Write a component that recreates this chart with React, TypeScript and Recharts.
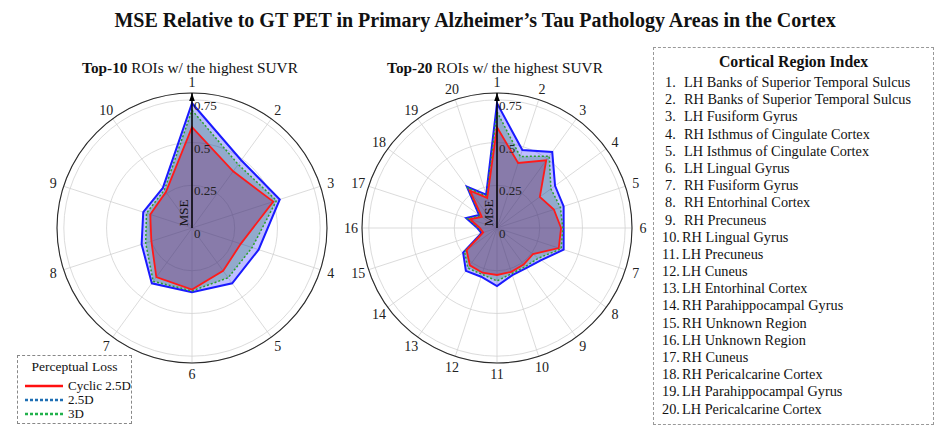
import { RadarChart, Radar, PolarGrid, PolarAngleAxis, PolarRadiusAxis } from 'recharts'

// ── data ──────────────────────────────────────────────────────────────────────
const TOP10_ROIS = ['1', '2', '3', '4', '5', '6', '7', '8', '9', '10']
const TOP10_CYCLIC = [0.59, 0.41, 0.50, 0.30, 0.31, 0.36, 0.355, 0.25, 0.257, 0.26]
const TOP10_25D    = [0.73, 0.49, 0.54, 0.41, 0.40, 0.376, 0.40, 0.31, 0.30, 0.29]
const TOP10_3D     = [0.69, 0.46, 0.52, 0.37, 0.36, 0.368, 0.386, 0.285, 0.28, 0.275]

const TOP20_ROIS = ['1', '2', '3', '4', '5', '6', '7', '8', '9', '10',
  '11', '12', '13', '14', '15', '16', '17', '18', '19', '20']
const TOP20_CYCLIC = [0.59, 0.40, 0.49, 0.31, 0.35, 0.375, 0.38, 0.26, 0.265, 0.27,
  0.275, 0.275, 0.27, 0.22, 0.085, 0.10, 0.165, 0.11, 0.27, 0.185]
const TOP20_25D    = [0.73, 0.48, 0.55, 0.42, 0.41, 0.39, 0.41, 0.32, 0.29, 0.29,
  0.34, 0.30, 0.31, 0.245, 0.095, 0.115, 0.19, 0.13, 0.30, 0.205]
const TOP20_3D     = [0.68, 0.44, 0.52, 0.39, 0.39, 0.385, 0.395, 0.30, 0.28, 0.28,
  0.31, 0.285, 0.29, 0.235, 0.09, 0.11, 0.18, 0.12, 0.29, 0.195]

const RADIUS_TICKS = [0, 0.25, 0.5, 0.75, 0.79]
const R_MAX = 0.79

const REGIONS = [
  'LH Banks of Superior Temporal Sulcus',
  'RH Banks of Superior Temporal Sulcus',
  'LH Fusiform Gyrus',
  'RH Isthmus of Cingulate Cortex',
  'LH Isthmus of Cingulate Cortex',
  'LH Lingual Gyrus',
  'RH Fusiform Gyrus',
  'RH Entorhinal Cortex',
  'RH Precuneus',
  'RH Lingual Gyrus',
  'LH Precuneus',
  'LH Cuneus',
  'LH Entorhinal Cortex',
  'RH Parahippocampal Gyrus',
  'RH Unknown Region',
  'LH Unknown Region',
  'RH Cuneus',
  'RH Pericalcarine Cortex',
  'LH Parahippocampal Gyrus',
  'LH Pericalcarine Cortex',
]

const SERIF = '"Liberation Serif", "Times New Roman", serif'

function rows(rois: string[], cyc: number[], d25: number[], d3: number[]) {
  return rois.map((roi, i) => ({ roi, cyc: cyc[i], d25: d25[i], d3: d3[i] }))
}

// ── ticks ─────────────────────────────────────────────────────────────────────
function AngleTick(props: any) {
  const { x, y, payload } = props
  return (
    <text x={x} y={y} dy="0.35em" textAnchor="middle" fontSize={14} fill="#222" fontFamily={SERIF}>
      {payload.value}
    </text>
  )
}

function RadiusTick(props: any) {
  const { x, y, payload } = props
  const v = payload.value as number
  if (v > 0.76) {
    // arrow head at the end of the MSE axis
    return <path d={`M${x},${y} l-2.8,8 l5.6,0 z`} fill="#000" />
  }
  return (
    <g>
      <text x={x + 2} y={y + 10} fontSize={13} fill="#222" fontFamily={SERIF}>{String(v)}</text>
      {v === 0 && (
        <text transform={`translate(${x - 4},${y - 15}) rotate(-90)`} textAnchor="middle" fontSize={13} fill="#111" fontFamily={SERIF}>
          MSE
        </text>
      )}
    </g>
  )
}

function Radial({ data }: { data: { roi: string; cyc: number; d25: number; d3: number }[] }) {
  return (
    <RadarChart width={310} height={310} data={data} cx={152} cy={153} outerRadius={135} startAngle={90} endAngle={-270} margin={{ top: 0, right: 0, bottom: 0, left: 0 }}>
      <PolarGrid gridType="circle" stroke="#d2d2d2" strokeWidth={0.8} />
      <PolarAngleAxis dataKey="roi" tick={AngleTick} tickLine={false} tickSize={11} axisLineType="circle" axisLine={{ stroke: '#2a2a2a', strokeWidth: 1.1 }} />
      <Radar dataKey="d25" stroke="#1a1aff" strokeWidth={2} fill="#0000ff" fillOpacity={0.25} dot={false} isAnimationActive={false} />
      <Radar dataKey="d3" stroke="#2ca02c" strokeWidth={1.5} strokeDasharray="2 2" fill="#2a7a5a" fillOpacity={0.3} dot={false} isAnimationActive={false} />
      <Radar dataKey="cyc" stroke="#ff1a1a" strokeWidth={1.8} fill="#70105a" fillOpacity={0.3} dot={false} isAnimationActive={false} />
      <PolarRadiusAxis angle={90} type="number" scale="linear" domain={[0, R_MAX]} tickCount={0} ticks={RADIUS_TICKS} tick={RadiusTick} tickLine={false} axisLine={{ stroke: '#000', strokeWidth: 1.5 }} allowDataOverflow />
    </RadarChart>
  )
}

function LegendLine({ color, dash }: { color: string; dash?: string }) {
  return (
    <svg width={38} height={6} style={{ marginRight: 5 }}>
      <line x1={0} y1={3} x2={38} y2={3} stroke={color} strokeWidth={2.6} strokeDasharray={dash} />
    </svg>
  )
}

export default function App() {
  const top10 = rows(TOP10_ROIS, TOP10_CYCLIC, TOP10_25D, TOP10_3D)
  const top20 = rows(TOP20_ROIS, TOP20_CYCLIC, TOP20_25D, TOP20_3D)
  return (
    <div style={{ position: 'absolute', left: 0, top: 0, width: 950, height: 431, background: '#fff', fontFamily: SERIF, color: '#111', overflow: 'hidden' }}>
      <div style={{ position: 'absolute', left: 0, width: 950, top: 9, textAlign: 'center', fontSize: 20, fontWeight: 'bold' }}>
        MSE Relative to GT PET in Primary Alzheimer’s Tau Pathology Areas in the Cortex
      </div>

      <div style={{ position: 'absolute', left: 40, width: 300, top: 59, textAlign: 'center', fontSize: 15.3 }}>
        <b>Top-10</b> ROIs w/ the highest SUVR
      </div>
      <div style={{ position: 'absolute', left: 345, width: 300, top: 59, textAlign: 'center', fontSize: 15.3 }}>
        <b>Top-20</b> ROIs w/ the highest SUVR
      </div>

      <div style={{ position: 'absolute', left: 40, top: 75 }}>
        <Radial data={top10} />
      </div>
      <div style={{ position: 'absolute', left: 345, top: 75 }}>
        <Radial data={top20} />
      </div>

      {/* legend */}
      <div style={{ position: 'absolute', left: 17, top: 355, width: 113, height: 67, border: '1px dashed #888', background: '#fff', fontSize: 13 }}>
        <div style={{ textAlign: 'center', marginTop: 3, fontSize: 13.5, lineHeight: '16px' }}>Perceptual Loss</div>
        <div style={{ display: 'flex', alignItems: 'center', marginLeft: 7, marginTop: 3, height: 15 }}>
          <LegendLine color="#ff1010" />Cyclic 2.5D
        </div>
        <div style={{ display: 'flex', alignItems: 'center', marginLeft: 7, height: 14 }}>
          <LegendLine color="#1f6fb4" dash="3 2" />2.5D
        </div>
        <div style={{ display: 'flex', alignItems: 'center', marginLeft: 7, height: 13 }}>
          <LegendLine color="#22b14c" dash="3 2" />3D
        </div>
      </div>

      {/* region index */}
      <div style={{ position: 'absolute', left: 653, top: 47, width: 281, height: 378, border: '1px dashed #999', boxSizing: 'border-box' }}>
        <div style={{ textAlign: 'center', fontWeight: 'bold', fontSize: 15.8, marginTop: 5, lineHeight: '18px' }}>Cortical Region Index</div>
        <div style={{ marginTop: 3 }}>
          {REGIONS.map((name, i) => (
            <div key={i} style={{ display: 'flex', fontSize: 14.3, lineHeight: '17.2px', height: 17.2, whiteSpace: 'nowrap' }}>
              <span style={{ width: 20, paddingLeft: i < 9 ? 11 : 8, boxSizing: 'content-box' }}>{i + 1}.</span>
              <span style={{ marginLeft: i < 9 ? -1 : 0 }}>{name}</span>
            </div>
          ))}
        </div>
      </div>
    </div>
  )
}
